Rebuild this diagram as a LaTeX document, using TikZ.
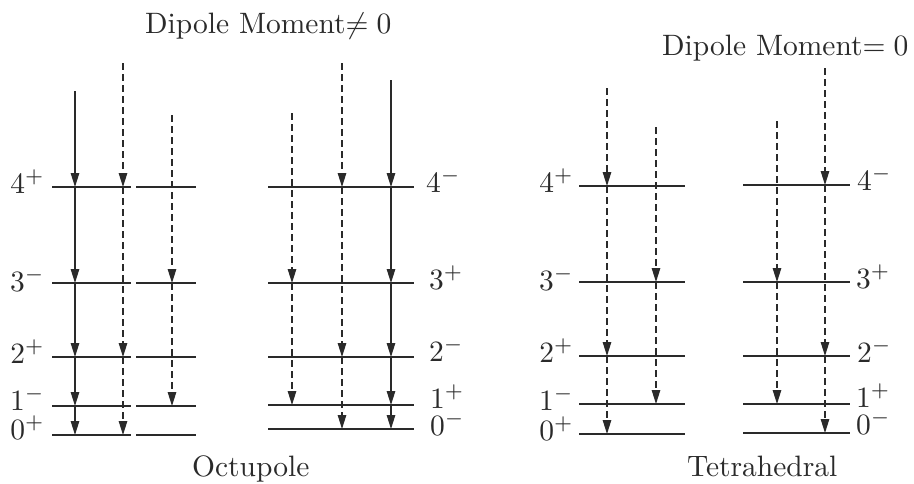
\documentclass[tikz,border=0pt]{standalone}
\usetikzlibrary{arrows.meta}
\definecolor{ink}{HTML}{2A2A2A}
\newcommand{\bigtxt}[1]{\scalebox{2.95}{\fontsize{10}{12}\selectfont #1}}
\newcommand{\lv}[2]{\bigtxt{$#1^{#2}$}}
\begin{document}
\begin{tikzpicture}[x=1pt,y=-1pt,
  lvl/.style={draw=ink,line width=1.2pt},
  sarr/.style={draw=ink,line width=1.3pt,-{Triangle[length=14pt,width=8.5pt]}},
  darr/.style={sarr,dash pattern=on 7pt off 4pt},
  lab/.style={inner sep=0pt,text=ink},
]
\useasboundingbox (0,0) rectangle (914,483);

% ---------- titles ----------
\node[lab,anchor=base west] (t1) at (145,33) {\bigtxt{Dipole Moment$\neq 0$}};
\node[lab,anchor=base west] (t2) at (662,55) {\bigtxt{Dipole Moment$= 0$}};
\node[lab,anchor=base west] (t3) at (192,476) {\bigtxt{Octupole}};
\node[lab,anchor=base west] (t4) at (687,476) {\bigtxt{Tetrahedral}};

% ---------- level lines ----------
% group A (two pieces per level)
\foreach \k/\y in {4/187,3/283,2/357,1/406,0/435}{
  \coordinate (a\k) at (52,\y); \coordinate (a\k r) at (196,\y);
  \draw[lvl] (a\k) -- ++(79,0) ++(5,0) -- (a\k r);}
% group B
\foreach \k/\y in {4/187,3/283,2/357,1/405,0/429}{
  \coordinate (b\k) at (268,\y); \coordinate (b\k r) at (414,\y);
  \draw[lvl] (b\k) -- (b\k r);}
% group C
\foreach \k/\y in {4/186,3/282,2/356,1/404,0/434}{
  \coordinate (c\k) at (579,\y); \coordinate (c\k r) at (685,\y);
  \draw[lvl] (c\k) -- (c\k r);}
% group D
\foreach \k/\y in {4/185,3/282,2/356,1/404,0/433}{
  \coordinate (d\k) at (743,\y); \coordinate (d\k r) at (850,\y);
  \draw[lvl] (d\k) -- (d\k r);}

% ---------- level labels ----------
\node[lab,anchor=base east] (la4) at (45,193) {\lv{4}{+}};
\node[lab,anchor=base east] (la3) at (45,291) {\lv{3}{-}};
\node[lab,anchor=base east] (la2) at (45,363) {\lv{2}{+}};
\node[lab,anchor=base east] (la1) at (45,410) {\lv{1}{-}};
\node[lab,anchor=base east] (la0) at (45,439) {\lv{0}{+}};

\node[lab,anchor=base west] (lb4) at (426,192) {\lv{4}{-}};
\node[lab,anchor=base west] (lb3) at (429,289) {\lv{3}{+}};
\node[lab,anchor=base west] (lb2) at (429,361) {\lv{2}{-}};
\node[lab,anchor=base west] (lb1) at (430,408) {\lv{1}{+}};
\node[lab,anchor=base west] (lb0) at (430,435) {\lv{0}{-}};

\node[lab,anchor=base east] (lc4) at (574,192) {\lv{4}{+}};
\node[lab,anchor=base east] (lc3) at (574,290) {\lv{3}{-}};
\node[lab,anchor=base east] (lc2) at (574,362) {\lv{2}{+}};
\node[lab,anchor=base east] (lc1) at (574,410) {\lv{1}{-}};
\node[lab,anchor=base east] (lc0) at (574,440) {\lv{0}{+}};

\node[lab,anchor=base west] (ld4) at (857,190) {\lv{4}{-}};
\node[lab,anchor=base west] (ld3) at (856,288) {\lv{3}{+}};
\node[lab,anchor=base west] (ld2) at (857,362) {\lv{2}{-}};
\node[lab,anchor=base west] (ld1) at (856,407) {\lv{1}{+}};
\node[lab,anchor=base west] (ld0) at (856,434) {\lv{0}{-}};

% ---------- transition columns ----------
% group A
\coordinate (pa1) at (75,91);
\coordinate (pa2) at (123,63);
\coordinate (pa3) at (172,115);
\draw[sarr] (pa1) -- (pa1 |- a4);
\draw[sarr] (pa1 |- a4) -- (pa1 |- a3);
\draw[sarr] (pa1 |- a3) -- (pa1 |- a2);
\draw[sarr] (pa1 |- a2) -- (pa1 |- a1);
\draw[sarr] (pa1 |- a1) -- (pa1 |- a0);
\draw[darr] (pa2) -- (pa2 |- a4);
\draw[darr] (pa2 |- a4) -- (pa2 |- a2);
\draw[darr] (pa2 |- a2) -- (pa2 |- a0);
\draw[darr] (pa3) -- (pa3 |- a3);
\draw[darr] (pa3 |- a3) -- (pa3 |- a1);

% group B
\coordinate (pb1) at (292,113);
\coordinate (pb2) at (342,63);
\coordinate (pb3) at (391,80);
\draw[darr] (pb1) -- (pb1 |- b3);
\draw[darr] (pb1 |- b3) -- (pb1 |- b1);
\draw[darr] (pb2) -- (pb2 |- b4);
\draw[darr] (pb2 |- b4) -- (pb2 |- b2);
\draw[darr] (pb2 |- b2) -- (pb2 |- b0);
\draw[sarr] (pb3) -- (pb3 |- b4);
\draw[sarr] (pb3 |- b4) -- (pb3 |- b3);
\draw[sarr] (pb3 |- b3) -- (pb3 |- b2);
\draw[sarr] (pb3 |- b2) -- (pb3 |- b1);
\draw[sarr] (pb3 |- b1) -- (pb3 |- b0);

% group C
\coordinate (pc1) at (607,88);
\coordinate (pc2) at (656,127);
\draw[darr] (pc1) -- (pc1 |- c4);
\draw[darr] (pc1 |- c4) -- (pc1 |- c2);
\draw[darr] (pc1 |- c2) -- (pc1 |- c0);
\draw[darr] (pc2) -- (pc2 |- c3);
\draw[darr] (pc2 |- c3) -- (pc2 |- c1);

% group D
\coordinate (pd1) at (777,121);
\coordinate (pd2) at (825,68);
\draw[darr] (pd1) -- (pd1 |- d3);
\draw[darr] (pd1 |- d3) -- (pd1 |- d1);
\draw[darr] (pd2) -- (pd2 |- d4);
\draw[darr] (pd2 |- d4) -- (pd2 |- d2);
\draw[darr] (pd2 |- d2) -- (pd2 |- d0);
\end{tikzpicture}
\end{document}
